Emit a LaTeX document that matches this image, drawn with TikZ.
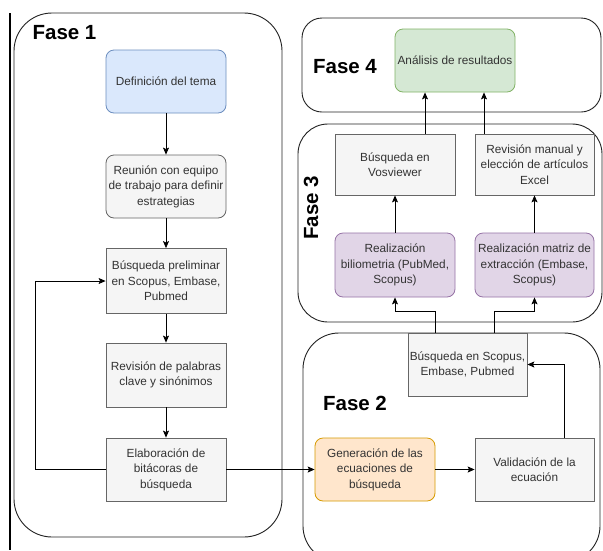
\documentclass[tikz,border=0pt]{standalone}
\usepackage{fontspec}
\setmainfont{Liberation Sans}
\usetikzlibrary{arrows.meta,positioning}
\definecolor{grayfill}{HTML}{F5F5F5}
\definecolor{grayline}{HTML}{666666}
\definecolor{txt}{HTML}{333333}
\definecolor{bluefill}{HTML}{DAE8FC}
\definecolor{blueline}{HTML}{6C8EBF}
\definecolor{greenfill}{HTML}{D5E8D4}
\definecolor{greenline}{HTML}{82B366}
\definecolor{orangefill}{HTML}{FFE6CC}
\definecolor{orangeline}{HTML}{D79B00}
\definecolor{purplefill}{HTML}{E1D5E7}
\definecolor{purpleline}{HTML}{9673A6}
\definecolor{phaseline}{HTML}{222222}
\tikzset{
  box/.style={draw=grayline, fill=grayfill, text=txt, line width=0.8pt,
    minimum width=120pt, minimum height=63pt, inner sep=0pt, align=center,
    font=\fontsize{11.8}{15.5}\selectfont},
  rbox/.style={box, rounded corners=8pt},
  bluebox/.style={rbox, draw=blueline, fill=bluefill},
  greenbox/.style={rbox, draw=greenline, fill=greenfill},
  orangebox/.style={rbox, draw=orangeline, fill=orangefill},
  purplebox/.style={rbox, draw=purpleline, fill=purplefill},
  phase/.style={draw=phaseline, line width=0.9pt, fill=white},
  phasetitle/.style={font=\fontsize{20.5}{22}\selectfont\bfseries, inner sep=0pt},
  arr/.style={draw=black, line width=0.8pt, -{Stealth[length=7pt,width=6pt,inset=1.5pt]}}
}
\begin{document}
\begin{tikzpicture}[x=1pt,y=-1pt]
\useasboundingbox (0,0) rectangle (603,550);
\clip (0,0) rectangle (603,550);
\fill[white] (0,0) rectangle (603,550);
% phase containers
\draw[phase, rounded corners=38pt] (14,13) rectangle (282,537);
\draw[phase, rounded corners=20pt] (302,18) rectangle (601,112);
\draw[phase, rounded corners=30pt] (298,124) rectangle (602,322);
\draw[phase, rounded corners=36pt] (303,333) rectangle (600,562);
\draw[black, line width=1.6pt] (10,13) -- (10,550);
% titles
\node[phasetitle] (t1) at (64.5,33) {Fase 1};
\node[phasetitle] (t2) at (355,403) {Fase 2};
\node[phasetitle, rotate=90] (t3) at (311,208) {Fase 3};
\node[phasetitle] (t4) at (345,67) {Fase 4};
% Fase 1
\node[bluebox] (def) at (166,81.5) {Definición del tema};
\node[rbox] (reu) at (166,186.5) {Reunión con equipo\\de trabajo para definir\\estrategias};
\node[box, minimum height=65pt] (pre) at (166,281) {Búsqueda preliminar\\en Scopus, Embase,\\Pubmed};
\node[box, minimum height=64pt] (rev) at (166,375) {Revisión de palabras\\clave y sinónimos};
\node[box] (ela) at (166,469.5) {Elaboración de\\bitácoras de\\búsqueda};
% Fase 2
\node[orangebox] (gen) at (375,469.5) {Generación de las\\ecuaciones de\\búsqueda};
\node[box, minimum width=119pt] (val) at (534.5,469.5) {Validación de la\\ecuación};
\node[box, minimum width=119pt] (bsc) at (467.5,364.5) {Búsqueda en Scopus,\\Embase, Pubmed};
% Fase 3
\node[purplebox, minimum height=64pt] (bib) at (395,265) {Realización\\biliometria (PubMed,\\Scopus)};
\node[purplebox, minimum width=119pt, minimum height=64pt] (mat) at (534.5,265) {Realización matriz de\\extracción (Embase,\\Scopus)};
\node[box, minimum height=61pt] (vos) at (395,164.5) {Búsqueda en\\Vosviewer};
\node[box, minimum width=119pt, minimum height=61pt] (rman) at (534.5,164.5) {Revisión manual y\\elección de artículos\\Excel};
% Fase 4
\node[greenbox] (ana) at (455,60.5) {Análisis de resultados};
% connectors
\draw[arr] (def) -- (reu);
\draw[arr] (reu) -- (pre);
\draw[arr] (pre) -- (rev);
\draw[arr] (rev) -- (ela);
\draw[arr] (ela.west) -- ++(-70,0) |- (pre.west);
\draw[arr] (ela.east) -- (gen.west);
\draw[arr] (gen.east) -- (val.west);
\draw[arr] ([xshift=29.5pt]val.north) |- (bsc.east);
\draw[arr] ([xshift=-32.5pt]bsc.north) -- ++(0,-21) -| (bib.south);
\draw[arr] ([xshift=26.5pt]bsc.north) -- ++(0,-21) -| (mat.south);
\draw[arr] (bib) -- (vos);
\draw[arr] (mat) -- (rman);
\draw[arr] ([xshift=30pt]vos.north) -- ([xshift=30pt]vos.north |- ana.south);
\draw[arr] ([xshift=-50.5pt]rman.north) -- ([xshift=-50.5pt]rman.north |- ana.south);
\end{tikzpicture}
\end{document}
